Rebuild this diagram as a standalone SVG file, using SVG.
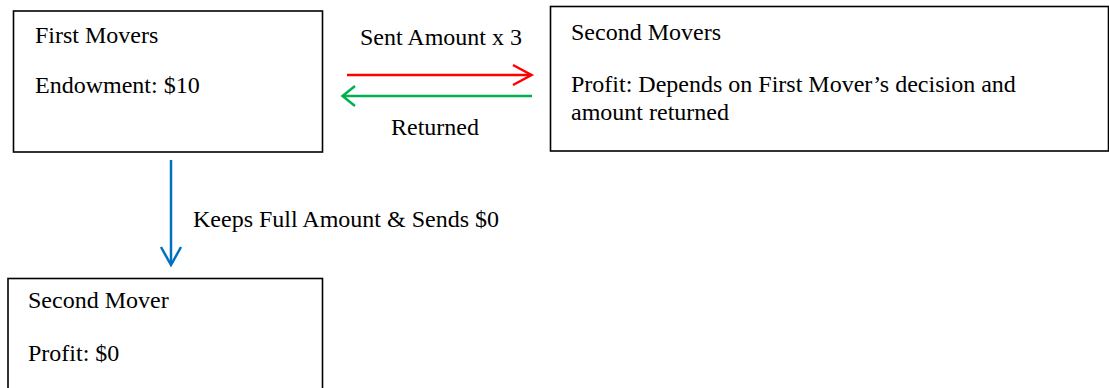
<svg xmlns="http://www.w3.org/2000/svg" width="1109" height="388" viewBox="0 0 1109 388">
  <style>
    .box { fill: #ffffff; stroke: #000000; stroke-width: 1.6; }
    .txt { font-family: "Liberation Serif", "Times New Roman", serif; font-size: 24px; fill: #000000; }
    .arrow { fill: none; stroke-width: 2.5; stroke-linecap: butt; stroke-linejoin: miter; }
  </style>
  <rect width="1109" height="388" fill="#ffffff"/>

  <g id="first-movers">
    <rect class="box" x="13.5" y="11" width="309" height="141"/>
    <text class="txt" x="35" y="43">First Movers</text>
    <text class="txt" x="35" y="93">Endowment: $10</text>
  </g>

  <g id="second-movers">
    <rect class="box" x="550.5" y="6.5" width="558" height="144.5"/>
    <text class="txt" x="571" y="40">Second Movers</text>
    <text class="txt" x="571" y="92">Profit: Depends on First Mover’s decision and</text>
    <text class="txt" x="571" y="120">amount returned</text>
  </g>

  <g id="second-mover-zero">
    <rect class="box" x="8" y="278.5" width="314.5" height="120"/>
    <text class="txt" x="28" y="308">Second Mover</text>
    <text class="txt" x="28" y="361">Profit: $0</text>
  </g>

  <g id="connectors">
    <!-- sent amount (red, to the right) -->
    <path class="arrow" stroke="#ff0000" d="M347 75 H531"/>
    <path class="arrow" stroke="#ff0000" d="M513 65 L531.5 75 L513 85"/>
    <text class="txt" x="360" y="45">Sent Amount x 3</text>
    <!-- returned (green, to the left) -->
    <path class="arrow" stroke="#00b050" d="M343 96 H532"/>
    <path class="arrow" stroke="#00b050" d="M355 86 L342.5 96 L355 106"/>
    <text class="txt" x="391" y="135">Returned</text>
    <!-- keeps everything (blue, downward) -->
    <path class="arrow" stroke="#0070c0" stroke-width="2.2" d="M171 160 V264"/>
    <path class="arrow" stroke="#0070c0" stroke-width="2.2" d="M161 247 L171 265 L181 247"/>
    <text class="txt" x="193" y="227">Keeps Full Amount &amp; Sends $0</text>
  </g>
</svg>
